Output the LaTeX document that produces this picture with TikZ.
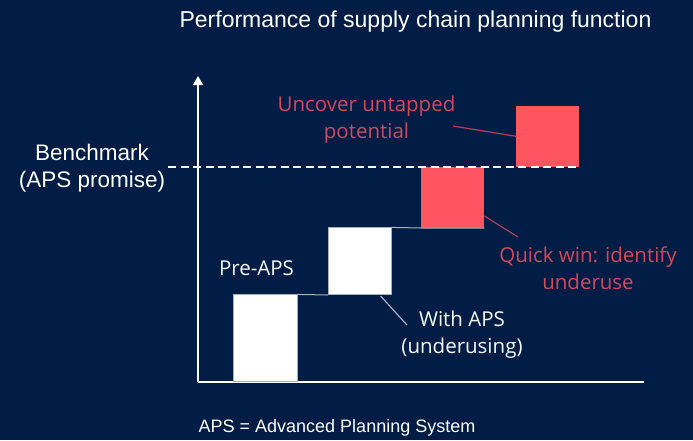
\documentclass[tikz,border=0pt]{standalone}
\usepackage{fontspec}
\setmainfont{Liberation Sans}
\newfontfamily\handfont{Open Sans}
\usetikzlibrary{arrows.meta,calc}
\definecolor{navy}{HTML}{021D45}
\definecolor{boxred}{HTML}{FF5561}
\definecolor{textred}{HTML}{D4475C}
\definecolor{leadred}{HTML}{B53D55}
\definecolor{stepgray}{HTML}{A9B1BE}
\begin{document}
\begin{tikzpicture}[x=1pt,y=-1pt,
  axis/.style={draw=white,line width=1.8pt},
  whitebox/.style={fill=white,draw=stepgray,line width=0.6pt,inner sep=0pt,anchor=south west},
  redbox/.style={fill=boxred,draw=none,inner sep=0pt,anchor=south west},
  stepline/.style={draw=stepgray,line width=1pt},
  benchline/.style={draw=white,line width=1.8pt,dash pattern=on 8pt off 4.5pt},
  redlead/.style={draw=leadred,line width=1.2pt},
  graylead/.style={draw=stepgray,line width=1.2pt},
  sanslabel/.style={text=white,align=center,inner sep=0pt},
  handwhite/.style={text=white!92!stepgray,align=center,inner sep=0pt,font=\handfont\fontsize{20.5}{27}\selectfont},
  handred/.style={text=textred,align=center,inner sep=0pt,font=\handfont\fontsize{20.5}{27}\selectfont}]
  % background and frame
  \fill[navy] (0,0) rectangle (693,440);
  \useasboundingbox (0,0) rectangle (693,440);

  % title and footnote
  \node[sanslabel,font=\fontsize{23}{27}\selectfont] (title) at (415.5,22) {Performance of supply chain planning function};
  \node[sanslabel,font=\fontsize{18}{22}\selectfont] (foot) at (337,428) {APS = Advanced Planning System};

  % axes
  \coordinate (origin) at (198,382);
  \coordinate (ytop) at (198,76);
  \coordinate (xend) at (644,382);
  \draw[axis] (origin) -- (xend);
  \draw[axis,-{Triangle[length=9pt,width=10pt]}] (origin) -- (ytop);

  % staircase of performance steps
  \node[whitebox,minimum width=64,minimum height=87] (b1) at (233,382) {};
  \node[whitebox,minimum width=63,minimum height=67] (b2) at (328,295) {};
  \node[redbox,minimum width=63,minimum height=61] (b3) at (421,228) {};
  \node[redbox,minimum width=63,minimum height=61] (b4) at (516,167) {};
  \draw[stepline] (b1.north east) -- (b2.south west);
  \draw[stepline] (b2.north east) -- (b3.south west) -- (b3.south east);

  % benchmark level
  \coordinate (benchL) at (168,167);
  \draw[benchline] (benchL) -- (b4.south east);
  \node[sanslabel,font=\fontsize{22.5}{27}\selectfont] (bench) at (92,168) {Benchmark\\(APS promise)};

  % labels
  \node[handwhite] (pre) at (256.5,268) {Pre-APS};
  \node[handwhite] (with) at (462,335) {With APS\\(underusing)};
  \node[handred] (uncover) at (366.5,120) {Uncover untapped\\potential};
  \node[handred] (quick) at (588,268) {Quick win: identify\\underuse};

  % leader lines
  \coordinate (uncEnd) at (453,126);
  \coordinate (qwEnd) at (518,237);
  \coordinate (withEnd) at (407,325);
  \draw[redlead] (uncEnd) -- (b4.west);
  \draw[redlead] ($(b3.south east)+(0,-12)$) -- (qwEnd);
  \draw[graylead] ($(b2.south east)+(-11,1)$) -- (withEnd);
\end{tikzpicture}
\end{document}
